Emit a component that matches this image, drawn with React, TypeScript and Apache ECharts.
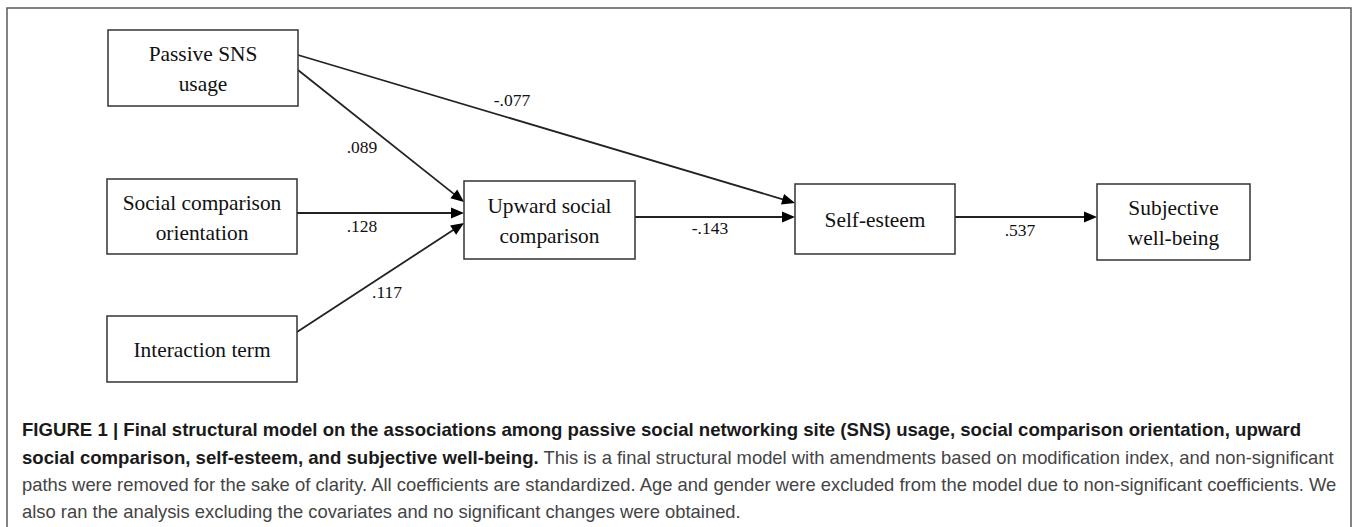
import React, { useEffect, useRef } from "react";
import * as echarts from "echarts";

// ---- Diagram data ----
const nodeNames = [
  "Passive SNS\nusage",
  "Social comparison\norientation",
  "Interaction term",
  "Upward social\ncomparison",
  "Self-esteem",
  "Subjective\nwell-being",
];
// box extents in diagram units (left, top, right, bottom)
const nodeLeft = [108, 107, 107, 464, 795, 1097];
const nodeTop = [30, 179, 316, 181, 184, 184];
const nodeRight = [298, 297, 297, 635, 955, 1250];
const nodeBottom = [106, 254, 382, 259, 254, 260];

// paths: start point, arrow tip, coefficient label position
const coefficients = [".089", "-.077", ".128", ".117", "-.143", ".537"];
const pathStart = [
  [298, 70],
  [298, 55],
  [297, 213],
  [297, 332],
  [635, 217],
  [955, 217],
];
const pathEnd = [
  [464, 202],
  [795, 203],
  [464, 213],
  [464, 223],
  [795, 217],
  [1097, 217],
];
const labelPos = [
  [362, 147],
  [512, 100],
  [362, 226],
  [387, 292],
  [710, 228],
  [1020, 230],
];

// caption lines: [bold part, regular part]
const captionLines = [
  ["FIGURE 1 | Final structural model on the associations among passive social networking site (SNS) usage, social comparison orientation, upward", ""],
  ["social comparison, self-esteem, and subjective well-being.", " This is a final structural model with amendments based on modification index, and non-significant"],
  ["", "paths were removed for the sake of clarity. All coefficients are standardized. Age and gender were excluded from the model due to non-significant coefficients. We"],
  ["", "also ran the analysis excluding the covariates and no significant changes were obtained."],
];
const captionY = [432, 460, 487, 514];

export default function App() {
  const ref = useRef<HTMLDivElement>(null);
  useEffect(() => {
    if (!ref.current) return;
    const chart = echarts.init(ref.current, null, { renderer: "svg" });

    const nodeData = nodeNames.map((_, i) => [nodeLeft[i], nodeTop[i], nodeRight[i], nodeBottom[i]]);
    const edgeData = coefficients.map((_, i) => [
      pathStart[i][0], pathStart[i][1], pathEnd[i][0], pathEnd[i][1], labelPos[i][0], labelPos[i][1],
    ]);

    const serif = '"Liberation Serif", "Times New Roman", serif';
    const sans = '"Liberation Sans", Arial, Helvetica, sans-serif';

    chart.setOption({
      animation: false,
      backgroundColor: "#ffffff",
      grid: { left: 0, right: 0, top: 0, bottom: 0, containLabel: false },
      xAxis: { type: "value", min: 0, max: 1357, show: false },
      yAxis: { type: "value", min: 0, max: 527, inverse: true, show: false },
      graphic: [
        {
          type: "rect",
          shape: { x: 7, y: 8, width: 1344, height: 540 },
          style: { fill: "none", stroke: "#5a5a5a", lineWidth: 1.5 },
          z: 0,
        },
        ...captionLines.map((ln, i) => ({
          type: "text",
          left: 22,
          top: captionY[i] - 12,
          style: {
            rich: {
              b: { fontFamily: sans, fontWeight: "bold", fontSize: 18.6, fill: "#1a1a1a" },
              r: { fontFamily: sans, fontSize: 18.4, fill: "#444444" },
            },
            text: (ln[0] ? `{b|${ln[0]}}` : "") + (ln[1] ? `{r|${ln[1]}}` : ""),
          },
        })),
      ],
      series: [
        {
          type: "custom",
          coordinateSystem: "cartesian2d",
          data: edgeData,
          z: 2,
          renderItem: (params: any, api: any) => {
            const i = params.dataIndex;
            const a = api.coord([api.value(0), api.value(1)]);
            const b = api.coord([api.value(2), api.value(3)]);
            const l = api.coord([api.value(4), api.value(5)]);
            const dx = b[0] - a[0];
            const dy = b[1] - a[1];
            const len = Math.sqrt(dx * dx + dy * dy);
            const ux = dx / len;
            const uy = dy / len;
            const hl = 13;
            const hw = 5.5;
            const bx = b[0] - ux * hl;
            const by = b[1] - uy * hl;
            return {
              type: "group",
              children: [
                {
                  type: "line",
                  shape: { x1: a[0], y1: a[1], x2: bx + ux * 2, y2: by + uy * 2 },
                  style: { stroke: "#222222", lineWidth: 1.8 },
                },
                {
                  type: "polygon",
                  shape: {
                    points: [
                      [b[0], b[1]],
                      [bx - uy * hw, by + ux * hw],
                      [bx + uy * hw, by - ux * hw],
                    ],
                  },
                  style: { fill: "#000000" },
                },
                {
                  type: "text",
                  x: l[0],
                  y: l[1],
                  style: {
                    text: coefficients[i],
                    font: `17.5px ${serif}`,
                    fill: "#111111",
                    align: "center",
                    verticalAlign: "middle",
                  },
                },
              ],
            };
          },
        },
        {
          type: "custom",
          coordinateSystem: "cartesian2d",
          data: nodeData,
          z: 3,
          renderItem: (params: any, api: any) => {
            const i = params.dataIndex;
            const p0 = api.coord([api.value(0), api.value(1)]);
            const p1 = api.coord([api.value(2), api.value(3)]);
            return {
              type: "group",
              children: [
                {
                  type: "rect",
                  shape: { x: p0[0], y: p0[1], width: p1[0] - p0[0], height: p1[1] - p0[1] },
                  style: { fill: "#ffffff", stroke: "#333333", lineWidth: 1.5 },
                },
                {
                  type: "text",
                  x: (p0[0] + p1[0]) / 2,
                  y: (p0[1] + p1[1]) / 2 + 1,
                  style: {
                    text: nodeNames[i],
                    font: `21.4px ${serif}`,
                    fill: "#111111",
                    align: "center",
                    verticalAlign: "middle",
                    lineHeight: 30,
                  },
                },
              ],
            };
          },
        },
      ],
    });
    return () => chart.dispose();
  }, []);

  return (
    <div
      ref={ref}
      style={{ position: "fixed", left: 0, top: 0, width: 1357, height: 527, background: "#fff" }}
    />
  );
}
